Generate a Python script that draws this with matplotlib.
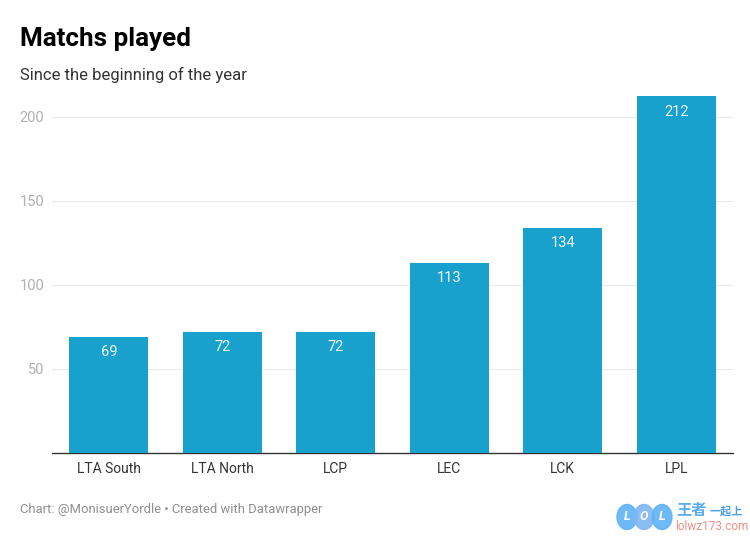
import matplotlib
matplotlib.use('Agg')
import matplotlib.pyplot as plt
from matplotlib.patches import Ellipse

regions = ['LTA South', 'LTA North', 'LCP', 'LEC', 'LCK', 'LPL']
matches = [69, 72, 72, 113, 134, 212]
yticks = [50, 100, 150, 200]

plt.rcParams['font.family'] = ['Roboto', 'Noto Sans CJK SC', 'DejaVu Sans']

fig = plt.figure(figsize=(7.5, 5.39), dpi=100)
ax = fig.add_axes([52/750, 1-453/539, (733-52)/750, (453-88)/539])

ax.bar(range(len(regions)), matches, width=0.7, color='#18a1cd', zorder=3)
for i, v in enumerate(matches):
    ax.text(i, v-9, str(v), ha='center', va='center', color='#eef8fb', size=10.5, zorder=4)

ax.set_xlim(-0.5, 5.5)
ax.set_ylim(0, 217)
ax.set_xticks(range(len(regions)))
ax.set_xticklabels(regions, size=10, color='#333333')
ax.set_yticks(yticks)
ax.tick_params(axis='both', length=0)
ax.tick_params(axis='x', pad=6.5)
ax.tick_params(axis='y', labelsize=10.5, labelcolor='#b0b0b0', pad=5.5)
ax.grid(axis='y', color='#ebebeb', lw=0.8, zorder=0)
for side in ['top', 'left', 'right']:
    ax.spines[side].set_visible(False)
ax.spines['bottom'].set_color('#333333')
ax.spines['bottom'].set_linewidth(1)

fig.text(20/750, 1-39/539, 'Matchs played', size=18.7, weight='bold', color='black', va='center')
fig.text(20/750, 1-75/539, 'Since the beginning of the year', size=12, color='#333333', va='center')
fig.text(20/750, 1-510/539, 'Chart: @MonisuerYordle • Created with Datawrapper', size=9.4, color='#8f8f8f', va='center')

# watermark, overlay in pixel coords
wm = fig.add_axes([0, 0, 1, 1], facecolor='none')
wm.set_xlim(0, 750)
wm.set_ylim(539, 0)
wm.axis('off')
for x, letter, col in [(627, 'L', '#5fb2f5'), (644, 'O', '#7fb6f2'), (662, 'L', '#5fb2f5')]:
    wm.add_patch(Ellipse((x, 517), 20, 25, color=col, alpha=0.9))
    wm.text(x, 517, letter, color='white', size=9, weight='bold', style='italic', ha='center', va='center')
wm.text(676, 511, '王者', color='#5aaef0', size=11, weight='bold', va='center')
wm.text(710, 511, '一起上', color='#4f9fe8', size=8, weight='bold', va='center')
wm.text(675, 527, 'lolwz173.com', color='#ee8f85', size=8.5, va='center')

fig.savefig('out.png', dpi=100)
